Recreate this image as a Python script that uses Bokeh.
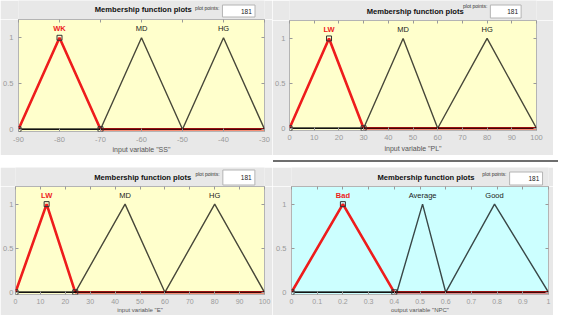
from bokeh.plotting import figure
from bokeh.models import FixedTicker, LinearAxis, Range1d, Spacer, Div
from bokeh.layouts import row, column
from bokeh.embed import file_html
from bokeh.resources import INLINE
from bokeh.core.properties import value

# ---------------- data ----------------
panel_title = "Membership function plots"
plot_points_label = "plot points:"
plot_points = "181"

y_ticks = [0, 0.5, 1]
y_tick_labels = ["0", "0.5", "1"]

ss_label = 'input variable "SS"'
ss_range = [-90, -30]
ss_mf_names = ["WK", "MD", "HG"]
ss_mf_a = [-90, -70, -50]
ss_mf_b = [-80, -60, -40]
ss_mf_c = [-70, -50, -30]
ss_ticks = [-90, -80, -70, -60, -50, -40, -30]
ss_tick_labels = ["-90", "-80", "-70", "-60", "-50", "-40", "-30"]

pl_label = 'input variable "PL"'
pl_range = [0, 100]
pl_mf_names = ["LW", "MD", "HG"]
pl_mf_a = [0, 30, 60]
pl_mf_b = [16, 46, 80]
pl_mf_c = [30, 60, 100]

pct_ticks = [0, 10, 20, 30, 40, 50, 60, 70, 80, 90, 100]
pct_tick_labels = ["0", "10", "20", "30", "40", "50", "60", "70", "80", "90", "100"]

e_label = 'input variable "E"'
e_range = [0, 100]
e_mf_names = ["LW", "MD", "HG"]
e_mf_a = [0, 24, 60]
e_mf_b = [12.5, 44, 80]
e_mf_c = [24, 60, 100]

npc_label = 'output variable "NPC"'
npc_range = [0, 1]
npc_mf_names = ["Bad", "Average", "Good"]
npc_mf_a = [0, 0.41, 0.6]
npc_mf_b = [0.2, 0.51, 0.79]
npc_mf_c = [0.4, 0.6, 1]
npc_ticks = [0, 0.1, 0.2, 0.3, 0.4, 0.5, 0.6, 0.7, 0.8, 0.9, 1]
npc_tick_labels = ["0", "0.1", "0.2", "0.3", "0.4", "0.5", "0.6", "0.7", "0.8", "0.9", "1"]

# ---------------- style ----------------
GRAY = "#e8e8e8"
YELLOW = "#ffffcc"
CYAN = "#ccffff"
RED = "#ee1c1c"
TICK = "#9a9a9a"
FONT = "Liberation Sans"


def make_header(g):
    w, hh = g["w"], g["hdr"]
    h = figure(width=w, height=hh, x_range=Range1d(0, w), y_range=Range1d(hh, 0),
               output_backend="svg", toolbar_location=None, tools="",
               x_axis_type=None, y_axis_type=None, min_border=0,
               background_fill_color=GRAY, border_fill_color=GRAY,
               outline_line_color=None)
    h.grid.visible = False
    tx, ty = g["title"]
    h.text(x=[tx], y=[ty], text=[panel_title], text_font=value(FONT),
           text_font_size="7.6px", text_font_style="bold", text_color="#111111",
           text_align="center", text_baseline="middle")
    bl, br, bt, bb = g["box"]
    h.text(x=[bl - 3], y=[g["ppy"]], text=[plot_points_label], text_font=value(FONT),
           text_font_size="5px", text_color="#333333",
           text_align="right", text_baseline="middle")
    h.quad(left=[bl + 0.5], right=[br + 0.5], top=[bt + 0.5], bottom=[bb + 0.5],
           fill_color="white", line_color="#b4b4b4", line_width=1)
    h.text(x=[br - 3], y=[(bt + bb) / 2 + 0.5], text=[plot_points], text_font=value(FONT),
           text_font_size="6.5px", text_color="#222222",
           text_align="right", text_baseline="middle")
    return h


def make_panel(g, xr, ticks, tick_labels, names, a, b, c, bg, xlabel):
    p = figure(width=g["w"], height=g["h"],
               x_range=Range1d(xr[0], xr[1]), y_range=Range1d(-0.025, 1.2),
               output_backend="svg", toolbar_location=None, tools="",
               min_border_left=g["L"], min_border_right=g["R"],
               min_border_top=0, min_border_bottom=g["B"],
               background_fill_color=bg, border_fill_color=GRAY,
               outline_line_color="#b4b4b4")
    p.xgrid.grid_line_color = None
    p.ygrid.grid_line_color = None

    xa = p.xaxis[0]
    xa.ticker = FixedTicker(ticks=ticks)
    xa.major_label_overrides = {t: s for t, s in zip(ticks, tick_labels)}
    xa.axis_label = xlabel
    xa.axis_label_text_font = FONT
    xa.axis_label_text_font_style = "normal"
    xa.axis_label_text_font_size = g["xlf"]
    xa.axis_label_text_color = "#555555"
    xa.axis_label_standoff = g["xls"]
    ya = p.yaxis[0]
    ya.ticker = FixedTicker(ticks=y_ticks)
    ya.major_label_overrides = {t: s for t, s in zip(y_ticks, y_tick_labels)}
    for ax, so, fs in ((xa, g["xs"], g["tf"]), (ya, g["ys"], "7.5px")):
        ax.axis_line_color = None
        ax.major_tick_in = 3
        ax.major_tick_out = 0
        ax.minor_tick_line_color = None
        ax.major_tick_line_color = TICK
        ax.major_label_text_color = TICK
        ax.major_label_text_font = FONT
        ax.major_label_text_font_size = fs
        ax.major_label_standoff = so
    # inward ticks on the opposite sides (no labels)
    for loc, tk in (("above", ticks), ("right", y_ticks)):
        ax = LinearAxis(ticker=FixedTicker(ticks=tk), major_tick_in=3, major_tick_out=0,
                        axis_line_color=None, minor_tick_line_color=None,
                        major_tick_line_color=TICK, major_label_text_font_size="0px",
                        major_label_text_color=None, major_label_standoff=0)
        p.add_layout(ax, loc)

    def curve(i):
        return [xr[0], a[i], b[i], c[i], xr[1]], [0, 0, 1, 0, 0]

    xs, ys = curve(0)
    p.line(xs, ys, line_color=RED, line_width=2.6)
    for i in (1, 2):
        xs, ys = curve(i)
        p.line(xs, ys, line_color="black", line_alpha=0.72, line_width=1.4)
    p.scatter([a[0], b[0], c[0]], [0, 1, 0], marker="square", size=5,
              fill_color=None, line_color="#333333", line_width=1)

    p.text(x=[b[0]], y=[1.1], text=[names[0]], text_color=RED, text_font=value(FONT),
           text_font_size="7.5px", text_font_style="bold", text_align="center",
           text_baseline="middle")
    p.text(x=[b[1], b[2]], y=[1.1, 1.1], text=[names[1], names[2]], text_color="#1a1a1a",
           text_font=value(FONT), text_font_size="7.5px", text_align="center",
           text_baseline="middle")
    return p


g1 = dict(w=272, hdr=19, h=136, L=18, R=8, B=24, xs=5, ys=5, tf="7.5px", xlf="7px", xls=1,
          title=(138, 9), ppy=7, box=(225, 261, 4, 16))
g2 = dict(w=281, hdr=20, h=135, L=15, R=17, B=25, xs=4, ys=4, tf="7.5px", xlf="7px", xls=2,
          title=(143, 11), ppy=5, box=(228, 263, 4, 17))
g3 = dict(w=272, hdr=19, h=129, L=13, R=8, B=19, xs=4, ys=2, tf="7px", xlf="6px", xls=0,
          title=(139, 10), ppy=6, box=(226, 261, 2, 17))
g4 = dict(w=281, hdr=19, h=129, L=19, R=5, B=19, xs=4, ys=5, tf="7px", xlf="6px", xls=0,
          title=(147, 10), ppy=6, box=(238, 274, 4, 17))

h1, h2, h3, h4 = (make_header(g) for g in (g1, g2, g3, g4))
p1 = make_panel(g1, ss_range, ss_ticks, ss_tick_labels, ss_mf_names, ss_mf_a, ss_mf_b, ss_mf_c, YELLOW, ss_label)
p2 = make_panel(g2, pl_range, pct_ticks, pct_tick_labels, pl_mf_names, pl_mf_a, pl_mf_b, pl_mf_c, YELLOW, pl_label)
p3 = make_panel(g3, e_range, pct_ticks, pct_tick_labels, e_mf_names, e_mf_a, e_mf_b, e_mf_c, YELLOW, e_label)
p4 = make_panel(g4, npc_range, npc_ticks, npc_tick_labels, npc_mf_names, npc_mf_a, npc_mf_b, npc_mf_c, CYAN, npc_label)

sep = row(Spacer(width=268, height=4),
          Div(text="", width=285, height=2, styles={"background-color": "#6e6e6e"}))
layout = column(row(column(h1, p1), column(h2, p2)), sep,
                row(column(h3, p3), column(h4, p4)))

open("out.html", "w").write(file_html(layout, INLINE))
